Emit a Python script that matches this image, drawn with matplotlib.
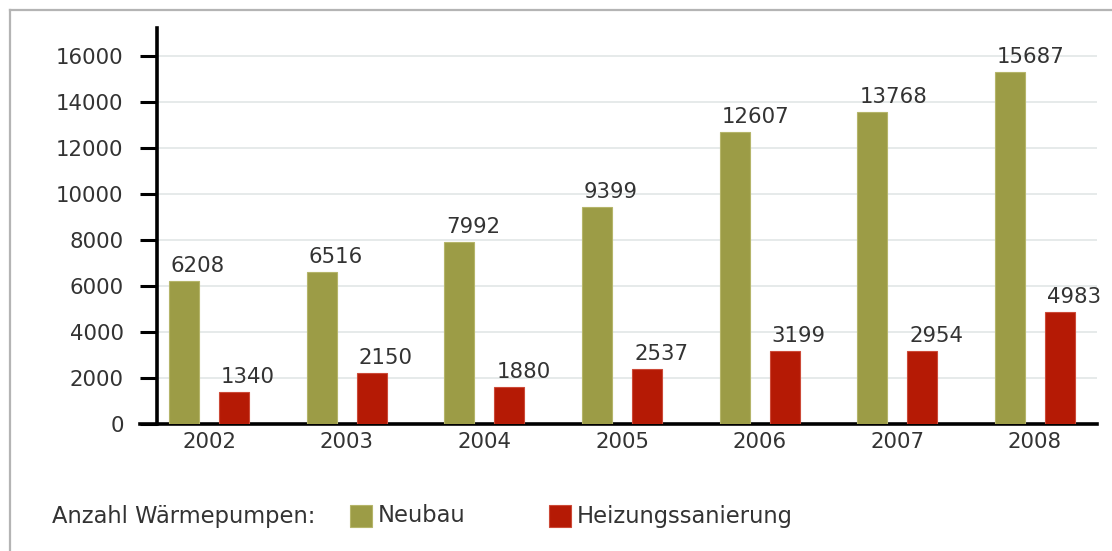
import matplotlib.pyplot as plt
import numpy as np
from matplotlib.patches import Rectangle
from matplotlib.lines import Line2D

years = ['2002', '2003', '2004', '2005', '2006', '2007', '2008']
# printed value labels
neubau = [6208, 6516, 7992, 9399, 12607, 13768, 15687]
sanierung = [1340, 2150, 1880, 2537, 3199, 2954, 4983]
# bar heights as drawn in the source chart (they do not quite match the labels)
neubau_bar = [6210, 6590, 7910, 9440, 12690, 13570, 15300]
sanierung_bar = [1390, 2220, 1610, 2390, 3170, 3170, 4870]
y_ticks = [0, 2000, 4000, 6000, 8000, 10000, 12000, 14000, 16000]

olive = '#9c9c46'
red = '#b51a05'
text_c = '#333333'
W, H = 1112, 551
fs = 15.3

plt.rcParams['font.family'] = ['DejaVu Sans']
fig = plt.figure(figsize=(W / 100, H / 100), dpi=100)
ax = fig.add_axes([157 / W, 1 - 424 / H, (1097 - 157) / W, (424 - 28) / H])

x = np.arange(len(years))
off, bw = 0.182, 0.218
b1 = ax.bar(x - off, neubau_bar, bw, color=olive, edgecolor='#b5b56a', lw=0.8, zorder=3)
b2 = ax.bar(x + off, sanierung_bar, bw, color=red, edgecolor='#cc4a38', lw=0.8, zorder=3)

for bars, labels in ((b1, neubau), (b2, sanierung)):
    for r, v in zip(bars, labels):
        ax.annotate(str(v), (r.get_x(), r.get_height()), xytext=(2, 9),
                    textcoords='offset pixels', ha='left', va='baseline',
                    fontsize=fs, color=text_c, zorder=4, annotation_clip=False)

ax.set_xlim(-0.378, 6.45)
ax.set_ylim(0, 17217)
ax.set_yticks(y_ticks)
ax.set_xticks(x)
ax.set_xticklabels(years)
ax.grid(axis='y', color='#e4e8e8', lw=1.3, zorder=0)
ax.set_axisbelow(True)
for s in ('top', 'right'):
    ax.spines[s].set_visible(False)
ax.spines['left'].set_linewidth(2.6)
ax.spines['bottom'].set_linewidth(2.6)
ax.spines['bottom'].set_bounds(-0.378 - 17 / 137.67, 6.45)
ax.tick_params(axis='y', length=12, width=2.2, pad=12, labelsize=fs, labelcolor=text_c)
ax.tick_params(axis='x', length=0, pad=6, labelsize=fs, labelcolor=text_c)

# legend row
fig.text(52 / W, 1 - 516 / H, 'Anzahl Wärmepumpen:', fontsize=16.3, color=text_c,
         ha='left', va='center')
for x0, col, ec, lab in ((350, olive, '#b5b56a', 'Neubau'), (549, red, '#cc4a38', 'Heizungssanierung')):
    fig.patches.append(Rectangle((x0 / W, 1 - 527 / H), 22 / W, 22 / H, transform=fig.transFigure,
                                 facecolor=col, edgecolor=ec, lw=0.8))
    fig.text((x0 + 28) / W, 1 - 516 / H, lab, fontsize=16.3, color=text_c, ha='left', va='center')

# outer frame
fig.add_artist(Line2D([10 / W, 1], [1 - 10 / H, 1 - 10 / H], color='#b4b4b4', lw=1.6,
                      transform=fig.transFigure))
fig.add_artist(Line2D([10 / W, 10 / W], [0, 1 - 10 / H], color='#b4b4b4', lw=1.6,
                      transform=fig.transFigure))

fig.savefig('out.png', dpi=100, facecolor='white')
